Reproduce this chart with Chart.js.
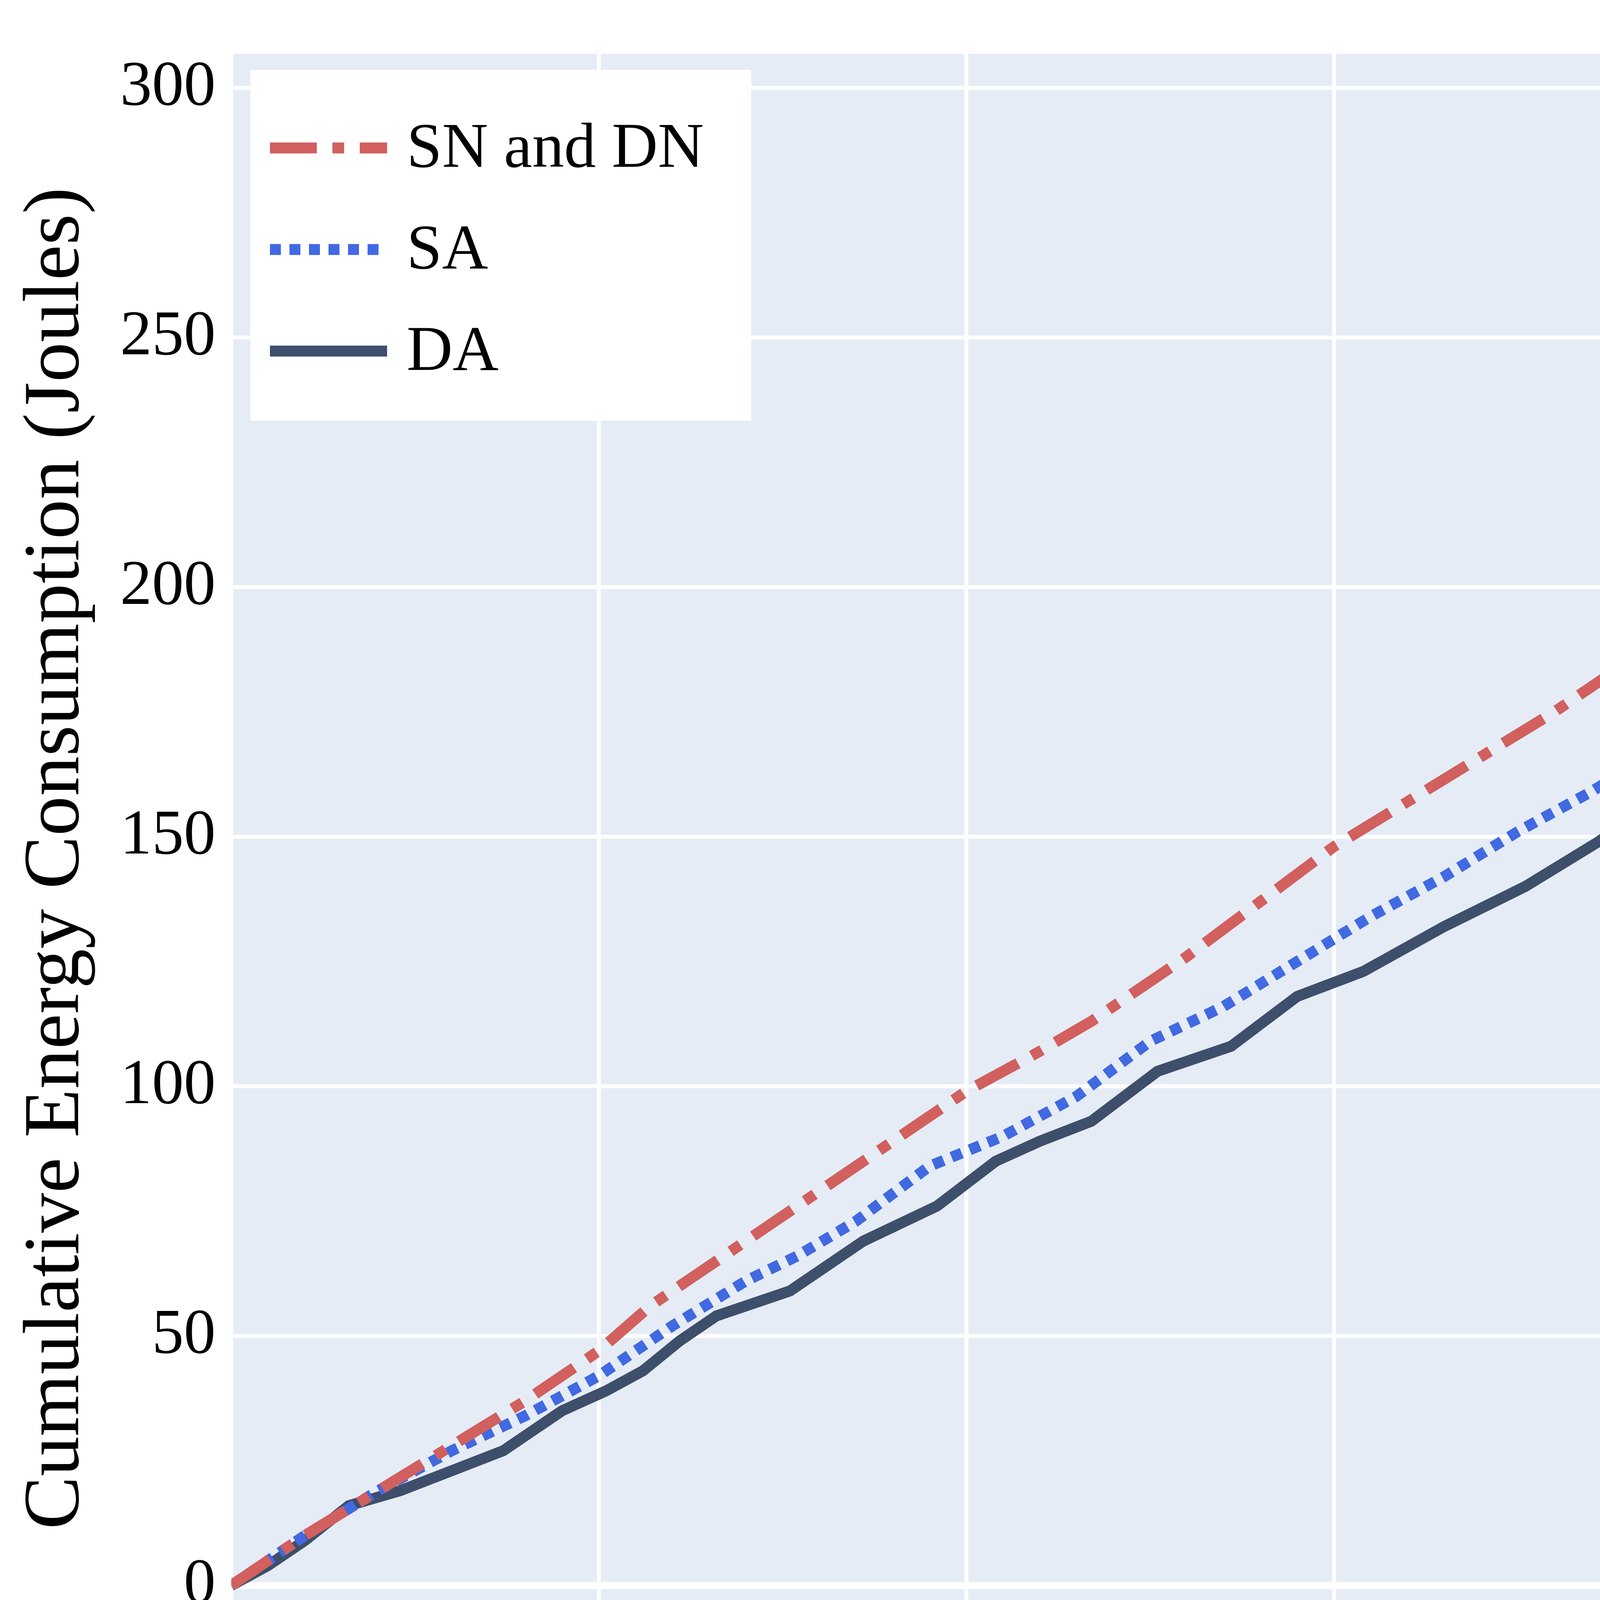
<!DOCTYPE html>
<html><head><script src="https://cdn.jsdelivr.net/npm/chart.js@4"></script>
<style>html,body{margin:0;padding:0;background:#fff;overflow:hidden}canvas{display:block}</style></head>
<body><canvas id="c" width="6400" height="4800" style="width:6400px;height:4800px"></canvas>
<script>
const snX=[0,10,20,30,40,50,57,70,80,90,100,110,117,130,140,150,160,170,180,190,200,206,220,230,240,250,260,270,280,290,300];
const snY=[0,10,19,28,37,47,56,69,79,89,99,107,113,126,137,148,157,166,175,185,195,200,212,224,234,243,253,264,274,283,291];
const saX=[0,10,20,30,40,50,60,70,77,85,95,105,115,125,135,145,155,165,175,185,195,205,215,225,235,245,255,265,275,285,295,300];
const saY=[0,10,19,27,34,42,52,61,66,73,84,90,98,109,116,125,134,142,151,159,168,179,184,194,203,211,221,230,239,248,257,263];
const daX=[0,5,10,16,23,30,37,45,51,56,61,66,76,86,96,104,110,117,126,136,145,154,165,176,186,195,206,212,220,226,236,250,256,266,275,282,290,297,300];
const daY=[0,4,9,16,19,23,27,35,39,43,49,54,59,69,76,85,89,93,103,108,118,123,132,140,149,158,165,170,176,183,190,201,206,217,221,228,234,239,242];
const labels=["SN and DN","SA","DA"];
const yTicks=[0,50,100,150,200,250,300];
const xTicks=[0,50,100,150,200,250,300];
const pts=(xs,ys)=>xs.map((x,i)=>({x,y:ys[i]}));
const FONT="'Liberation Serif','Times New Roman',serif";
const legendPlugin={id:'lg',afterDatasetsDraw(ch){const c=ch.ctx,a=ch.chartArea;const x0=a.left+49,y0=a.top+41;
c.save();c.fillStyle='#fff';c.fillRect(x0,y0,1282,898);
ch.data.datasets.forEach((d,i)=>{const y=y0+200+i*260;c.strokeStyle=d.borderColor;c.lineWidth=d.borderWidth;c.setLineDash(d.borderDash||[]);c.lineCap='butt';
c.beginPath();c.moveTo(x0+50,y);c.lineTo(x0+350,y);c.stroke();c.setLineDash([]);
c.fillStyle='#000';c.font="163px "+FONT;c.textBaseline='middle';c.fillText(d.label,x0+400,y+5);});c.restore();}};
const bgPlugin={id:'bg',beforeDraw(ch){const c=ch.ctx,a=ch.chartArea;c.save();c.fillStyle='#e5ecf6';c.fillRect(a.left,a.top,a.right-a.left,a.bottom-a.top);c.restore();}};
new Chart(document.getElementById('c'),{type:'line',
data:{datasets:[
{label:labels[0],data:pts(snX,snY),borderColor:'#d1605e',borderWidth:28,borderDash:[120,40,30,40],pointRadius:0,tension:0},
{label:labels[1],data:pts(saX,saY),borderColor:'#4169e1',borderWidth:28,borderDash:[28,22],pointRadius:0,tension:0},
{label:labels[2],data:pts(daX,daY),borderColor:'#3d4f6b',borderWidth:28,pointRadius:0,tension:0}]},
options:{responsive:false,devicePixelRatio:1,animation:false,layout:{padding:{left:20,right:142,top:-223,bottom:20}},
plugins:{legend:{display:false},tooltip:{enabled:false}},
scales:{
x:{type:'linear',min:0,max:300,afterBuildTicks:s=>{s.ticks=xTicks.map(v=>({value:v}))},
 afterFit:s=>{s.height=523},
 grid:{color:'#fff',lineWidth:10,drawTicks:false},border:{display:false},
 ticks:{color:'#000',font:{family:FONT,size:163},padding:40,maxRotation:0},
 title:{display:true,text:'Time in Minutes',color:'#000',font:{family:FONT,size:204},padding:{top:60}}},
y:{type:'linear',min:-15.5,max:306.8,afterBuildTicks:s=>{s.ticks=yTicks.map(v=>({value:v}))},
 afterFit:s=>{s.width=572},
 grid:{color:'#fff',lineWidth:c=>c.tick&&c.tick.value===0?18:10,drawTicks:false},border:{display:false},
 ticks:{color:'#000',font:{family:FONT,size:163},padding:40},
 title:{display:true,text:'Cumulative Energy Consumption (Joules)',color:'#000',font:{family:FONT,size:204},padding:{bottom:20}}}}},
plugins:[bgPlugin,legendPlugin]});
</script></body></html>
